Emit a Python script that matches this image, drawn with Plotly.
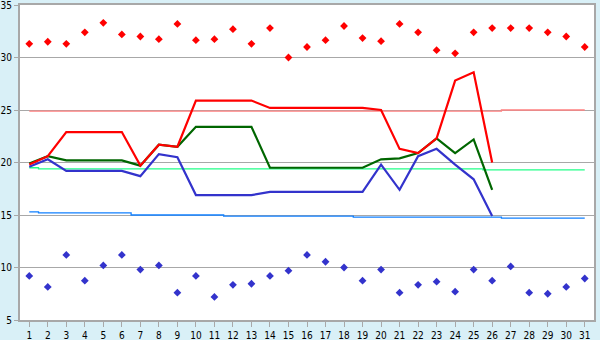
import plotly.graph_objects as go

days = list(range(1, 32))
tick_labels = [str(d) for d in days]

line_days = list(range(1, 27))
max_temp = [19.8, 20.6, 22.9, 22.9, 22.9, 22.9, 19.7, 21.7, 21.5, 25.9, 25.9, 25.9, 25.9,
            25.2, 25.2, 25.2, 25.2, 25.2, 25.2, 25.0, 21.3, 20.9, 22.3, 27.8, 28.6, 20.0]
mean_temp = [19.9, 20.6, 20.2, 20.2, 20.2, 20.2, 19.7, 21.7, 21.5, 23.4, 23.4, 23.4, 23.4,
             19.5, 19.5, 19.5, 19.5, 19.5, 19.5, 20.3, 20.4, 20.9, 22.3, 20.9, 22.2, 17.4]
min_temp = [19.6, 20.3, 19.2, 19.2, 19.2, 19.2, 18.7, 20.8, 20.5, 16.9, 16.9, 16.9, 16.9,
            17.2, 17.2, 17.2, 17.2, 17.2, 17.2, 19.8, 17.4, 20.6, 21.3, 19.8, 18.4, 14.9]

record_max = [31.3, 31.5, 31.3, 32.4, 33.3, 32.2, 32.0, 31.75, 33.2, 31.65, 31.75, 32.7, 31.3,
              32.8, 30.0, 31.0, 31.65, 33.0, 31.85, 31.55, 33.2, 32.4, 30.7, 30.4, 32.4,
              32.8, 32.8, 32.8, 32.4, 32.0, 31.0]
record_min = [9.2, 8.15, 11.2, 8.75, 10.2, 11.2, 9.8, 10.2, 7.6, 9.2, 7.2, 8.35, 8.45, 9.2,
              9.7, 11.2, 10.55, 10.0, 8.75, 9.8, 7.6, 8.35, 8.65, 7.7, 9.8, 8.75, 10.1, 7.6,
              7.5, 8.15, 8.95]

normal_max = [24.9] * 26 + [25.0] * 5
normal_mean = [19.5] + [19.4] * 24 + [19.3] * 6
normal_min = [15.3] + [15.2] * 5 + [15.0] * 5 + [14.9] * 7 + [14.8] * 8 + [14.7] * 5

fig = go.Figure()

fig.add_trace(go.Scatter(x=days, y=normal_max, mode="lines", line=dict(color="#FF8080", width=1.3, shape="hvh")))
fig.add_trace(go.Scatter(x=days, y=normal_mean, mode="lines", line=dict(color="#22FF88", width=1.3, shape="hvh")))
fig.add_trace(go.Scatter(x=days, y=normal_min, mode="lines", line=dict(color="#1080FF", width=1.3, shape="hvh")))

fig.add_trace(go.Scatter(x=line_days, y=min_temp, mode="lines", line=dict(color="#3333CC", width=2.2)))
fig.add_trace(go.Scatter(x=line_days, y=mean_temp, mode="lines", line=dict(color="#006600", width=2.2)))
fig.add_trace(go.Scatter(x=line_days, y=max_temp, mode="lines", line=dict(color="#FF0000", width=2.2)))

fig.add_trace(go.Scatter(x=days, y=record_max, mode="markers",
                         marker=dict(symbol="diamond", size=6, color="#FF0000")))
fig.add_trace(go.Scatter(x=days, y=record_min, mode="markers",
                         marker=dict(symbol="diamond", size=6, color="#3333CC")))

axis_font = dict(family="DejaVu Sans Condensed, DejaVu Sans, Verdana, sans-serif", size=10, color="#000000")

fig.update_layout(
    width=600, height=340,
    margin=dict(l=20, r=6, t=5, b=20),
    paper_bgcolor="#D9F0F7",
    plot_bgcolor="#FFFFFF",
    showlegend=False,
    font=axis_font,
    xaxis=dict(
        range=[0.5, 31.5], tickmode="array", tickvals=days, ticktext=tick_labels,
        showgrid=False, zeroline=False, automargin=False, ticklabeloverflow="allow",
        showline=True, linecolor="#A8A8A8", linewidth=2, mirror=True,
        ticks="outside", ticklen=5, tickcolor="#A8A8A8", tickwidth=1,
        tickfont=axis_font,
    ),
    yaxis=dict(
        range=[5, 35], tickmode="linear", tick0=5, dtick=5,
        showgrid=True, gridcolor="#A8A8A8", gridwidth=1, zeroline=False, automargin=False,
        ticklabeloverflow="allow",
        showline=True, linecolor="#A8A8A8", linewidth=2, mirror=True,
        ticks="outside", ticklen=4, tickcolor="#A8A8A8", tickwidth=1,
        tickfont=axis_font,
    ),
)

fig.write_html("out.html")
